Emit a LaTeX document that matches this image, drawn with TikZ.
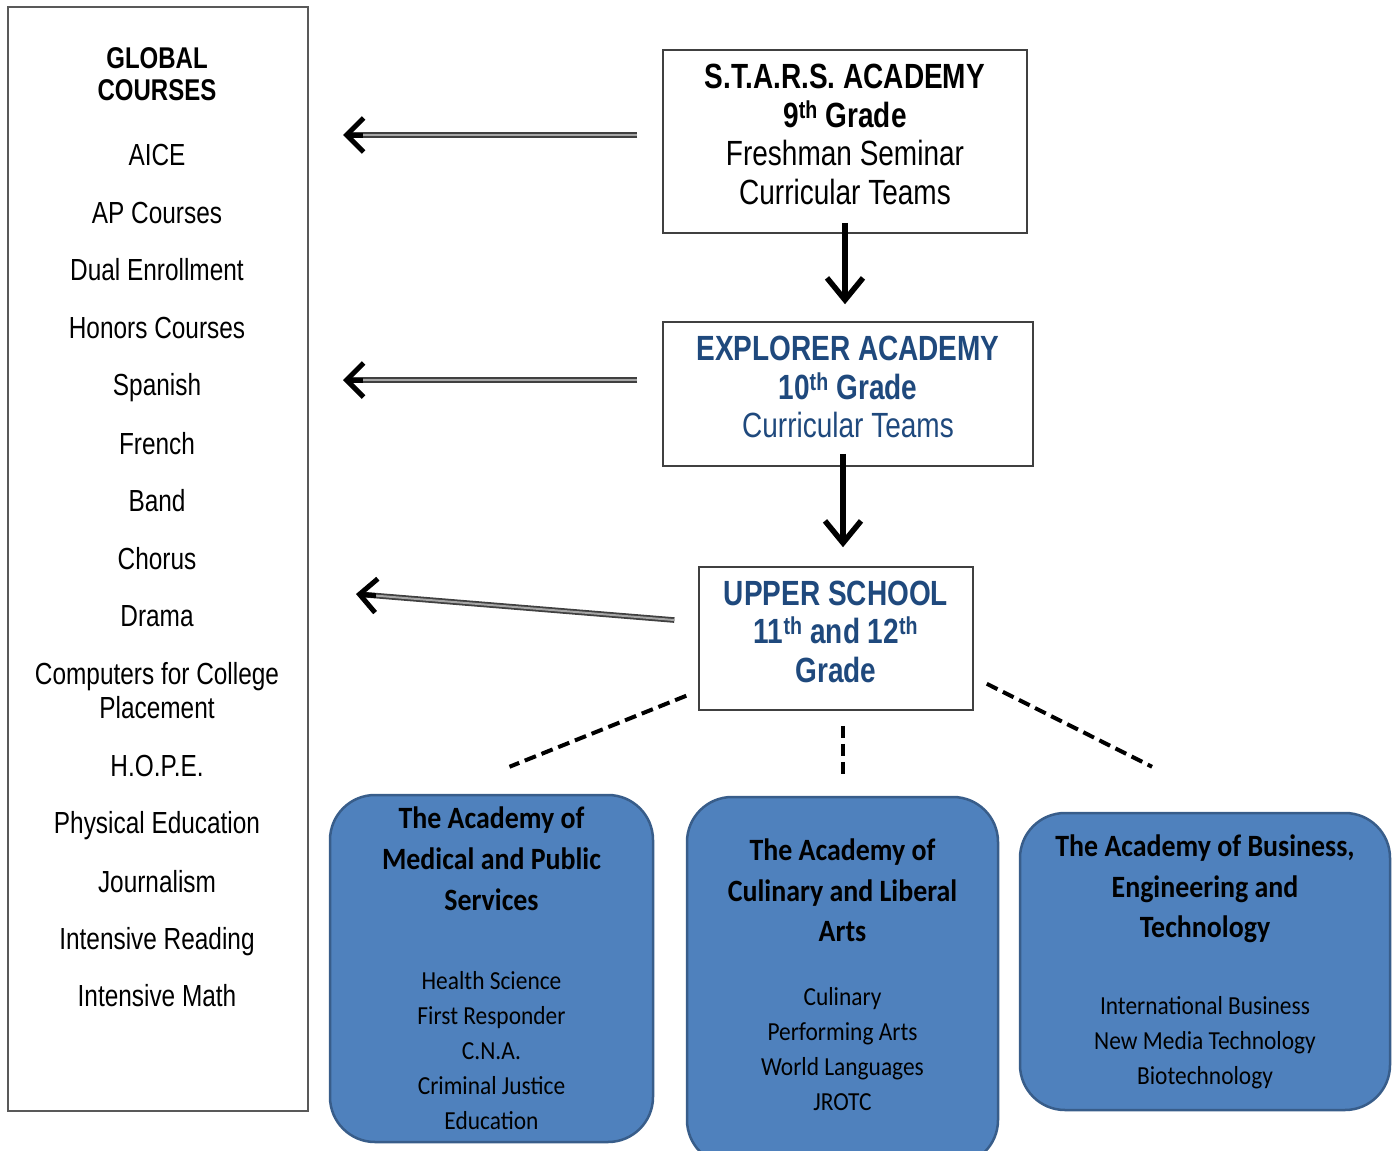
\documentclass[tikz,border=0pt]{standalone}
\usepackage{fontspec}
\setmainfont{Liberation Sans}
\newfontfamily\hdfont[FakeStretch=0.8]{Liberation Sans}
\newfontfamily\acfont[FakeStretch=0.9]{Carlito}
\usetikzlibrary{arrows.meta,calc}

\definecolor{navy}{RGB}{31,73,125}
\definecolor{acfill}{RGB}{79,129,189}
\definecolor{acline}{RGB}{56,93,138}

\newcommand\actitle{\bfseries\fontsize{31}{41}\selectfont}
\newcommand\lowpad[1][14pt]{\rule[-#1]{0pt}{#1}}

\tikzset{
  gradebox/.style={draw=black!75, line width=1.5pt, fill=white, align=center, inner sep=0pt,
    font=\hdfont\fontsize{35}{38.5}\selectfont},
  academy/.style={draw=acline, line width=2.5pt, fill=acfill, rounded corners=45pt, align=center,
    inner sep=0pt, font=\acfont\fontsize{26}{35}\selectfont},
  course/.style={font=\hdfont\fontsize{30.5}{34}\selectfont, align=center},
  shaft/.style={draw=black!75, line width=1.8pt, double=black!35, double distance=2pt},
  barb/.style={line width=5pt, -{Straight Barb[length=17pt,width=34pt]}},
  downarrow/.style={line width=5.5pt, -{Straight Barb[length=22pt,width=36pt]}},
  dashlink/.style={line width=4pt, dash pattern=on 12pt off 6pt},
}

\begin{document}
\begin{tikzpicture}[x=1pt,y=-1pt]
\clip (0,0) rectangle (1395,1151);
\path[use as bounding box] (0,0) rectangle (1395,1151);

% global courses
\node[draw=black!65, line width=1.5pt, minimum width=300pt, minimum height=1104pt] (global) at (158,559) {};
\node[course, font=\hdfont\bfseries\fontsize{30}{32}\selectfont] (gtitle) at (157,74) {GLOBAL\\COURSES};
\foreach \y/\t [count=\i] in {155/AICE, 213/AP Courses, 270/Dual Enrollment, 328/Honors Courses,
    385/Spanish, 444/French, 501/Band, 559/Chorus, 616/Drama,
    766/H.O.P.E., 823/Physical Education, 882/Journalism, 939/Intensive Reading, 996/Intensive Math}
  \node[course, text height=21.8pt, text depth=0pt] (c\i) at (157,\y) {\t};
\node[course] (computers) at (157,691) {Computers for College\\Placement};

% grade levels
\node[gradebox, minimum width=364pt, minimum height=183pt] (stars) at (845,141.5)
  {\textbf{S.T.A.R.S. ACADEMY}\\\textbf{9\textsuperscript{th} Grade}\\Freshman Seminar\\Curricular Teams\lowpad};
\node[gradebox, text=navy, minimum width=370pt, minimum height=144pt] (explorer) at (848,394)
  {\textbf{EXPLORER ACADEMY}\\\textbf{10\textsuperscript{th} Grade}\\Curricular Teams\lowpad};
\node[gradebox, text=navy, font=\hdfont\bfseries\fontsize{35}{38.5}\selectfont,
  minimum width=274pt, minimum height=143pt] (upper) at (836,638.5)
  {UPPER SCHOOL\\11\textsuperscript{th} and 12\textsuperscript{th}\\Grade\lowpad};

% academies
\node[academy, minimum width=323pt, minimum height=347pt] (medical) at (491.5,968.5)
  {\actitle The Academy of\\[6pt]\actitle Medical and Public\\[6pt]\actitle Services\\[44pt]
   Health Science\\First Responder\\C.N.A.\\Criminal Justice\\Education};
\node[academy, minimum width=311pt, minimum height=368pt] (culinary) at (842.5,981)
  {\actitle The Academy of\\[6pt]\actitle Culinary and Liberal\\[5pt]\actitle Arts\\[29pt]
   Culinary\\Performing Arts\\World Languages\\JROTC\lowpad[13pt]};
\node[academy, minimum width=370pt, minimum height=297pt] (business) at (1205,961.5)
  {\actitle The Academy of Business,\\[6pt]\actitle Engineering and\\[5pt]\actitle Technology\\[42pt]
   International Business\\New Media Technology\\Biotechnology};

% arrows to the global courses
\coordinate (t1) at (343,135);
\coordinate (t2) at (343,380);
\coordinate (t3) at (356,594);
\draw[shaft, shorten <=25pt, shorten >=4pt] (stars.west |- t1) -- (t1);
\draw[barb] ($(t1)!20pt!(stars.west |- t1)$) -- (t1);
\draw[shaft, shorten <=25pt, shorten >=4pt] (explorer.west |- t2) -- (t2);
\draw[barb] ($(t2)!20pt!(explorer.west |- t2)$) -- (t2);
\draw[shaft, shorten <=24pt, shorten >=4pt] ([yshift=16.5pt]upper.west) -- (t3);
\draw[barb] ($(t3)!20pt!([yshift=16.5pt]upper.west)$) -- (t3);

% grade to grade
\draw[downarrow, shorten >=17pt] ([yshift=11pt]stars.south) -- (stars.south |- explorer.north);
\draw[downarrow, shorten >=19pt] ($(explorer.south)+(-5pt,13pt)$) -- ($(explorer.south |- upper.north)+(-5pt,0)$);

% upper school to academies
\draw[dashlink] ([xshift=-12pt,yshift=15pt]upper.south west) -- ([xshift=18pt,yshift=27pt]medical.north);
\draw[dashlink] ([yshift=-15pt]upper.south -| culinary.north) -- ([yshift=17pt]culinary.north);
\draw[dashlink] ([xshift=13pt,yshift=27pt]upper.south east) -- ([xshift=-53pt,yshift=45pt]business.north);
\end{tikzpicture}
\end{document}
